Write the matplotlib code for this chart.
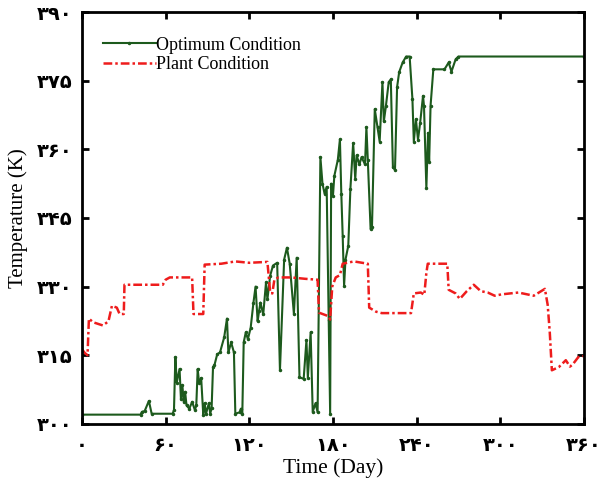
import matplotlib
matplotlib.use("Agg")
import matplotlib.pyplot as plt

# Optimum condition (green line with dots)
opt_day = [0, 42, 43, 45, 48, 50, 65, 66, 67, 68, 70, 71, 72, 73, 74, 75, 77, 79, 81, 82,
           83, 84, 85.5, 87, 88, 89, 91, 92, 93, 94, 95, 97, 99, 102, 104, 105, 107, 109, 110,
           113, 114, 115, 116, 117.5, 119, 121, 123, 124.5, 126, 127, 128, 130, 132, 133, 135,
           137, 140, 142, 145, 147, 149, 152, 154, 156, 159, 161, 162, 164, 165.5, 167.5, 169,
           171, 172.5, 174, 175.5, 177, 178, 178.7, 180, 181, 183.5, 185, 186, 187, 188, 189,
           191, 192.5, 194.5, 196, 197, 199, 200.5, 203, 204, 205, 207, 208, 210, 212, 213.5,
           215.5, 216.5, 218, 220, 221.5, 223, 224.5, 226, 227.5, 230, 232.5, 235, 237, 238,
           239.5, 241, 242.5, 244.6, 245.3, 247, 248.2, 249, 250, 252, 260, 263, 265, 268, 270,
           360]
opt_temp = [302, 302, 302.6, 302.8, 305, 302.2, 302.2, 303, 314.6, 309, 312, 305.4, 308.5,
            304.8, 307, 304, 303.3, 304.8, 303, 304, 312, 309, 310, 302, 304.5, 302.2, 304.5,
            302.2, 303.5, 312.4, 312.8, 315.2, 315.6, 318.9, 323, 315.6, 317.8, 315.6, 302.2,
            302.5, 303.3, 302.2, 317.8, 320, 318.5, 321, 326.5, 330, 322.4, 324.6, 326.5, 323.9,
            330.9, 327.2, 332.4, 334.6, 335.2, 311.7, 335.9, 338.5, 335, 324, 336.3, 310.2,
            309.8, 318.3, 310, 320, 302.6, 304.5, 302.5, 358.3, 352.5, 350.3, 351.8, 322.6, 302.2,
            352.5, 349.8, 354.2, 357.7, 362.2, 350.3, 341, 330.2, 335.9, 338.9, 351.3, 361.4, 353.5,
            358.7, 356.7, 358.3, 356.7, 364.9, 357.7, 342.6, 343, 368.8, 364.8, 361.7, 374.7, 366.1,
            369.5, 374.7, 375.3, 356.1, 355.5, 373.6, 376.9, 379, 380.3, 380.3, 371, 361.7,
            366.6, 362.1, 365.7, 371.7, 369.5, 351.5, 363.6, 357.2, 369.5, 377.5, 377.5, 379,
            377, 379.7, 380.3, 380.3]

# Plant condition (red dash-dot line)
plant_day = [0, 2, 4, 5, 8, 15, 19, 21.5, 25, 27, 30, 30.5, 45, 58, 60, 63, 79, 80, 87, 88,
             100, 110, 120, 133, 135, 136.5, 138, 141, 150, 160, 169, 170, 177, 178, 179.5,
             182, 185, 187, 195, 205, 206, 211, 215, 236, 238, 243, 245.5, 247, 248, 262, 263,
             268, 271, 276, 281, 286, 291, 296, 301, 313, 324, 332, 334, 335.5, 337, 342, 347,
             350, 352, 356, 360]
plant_temp = [316.3, 315.5, 315, 323, 322.2, 321.5, 322.4, 325.8, 325.4, 324, 324, 330.4,
              330.4, 330.4, 331.5, 332, 332, 324, 324, 334.8, 335, 335.5, 335.2, 335.4, 328.7,
              328.5, 331.5, 332, 332, 331.7, 331.5, 324.3, 323.5, 322.8, 330, 332, 332.5, 335,
              335.5, 335, 325.4, 324.5, 324.2, 324.2, 328.5, 328.7, 328.2, 333, 335, 335, 329.3,
              328.5, 327.3, 329, 330.4, 329, 328.7, 328, 328.3, 328.7, 328, 329.5, 326, 320,
              311.7, 312.4, 313.9, 312.5, 313, 314.6, 314.8]

x_ticks = [0, 60, 120, 180, 240, 300, 360]
x_labels = ["۰", "۶۰", "۱۲۰", "۱۸۰", "۲۴۰", "۳۰۰", "۳۶۰"]
y_ticks = [300, 315, 330, 345, 360, 375, 390]
y_labels = ["۳۰۰", "۳۱۵", "۳۳۰", "۳۴۵", "۳۶۰", "۳۷۵", "۳۹۰"]

fig = plt.figure(figsize=(6.07, 4.86), dpi=100)
ax = fig.add_axes([0.135, 0.128, 0.827, 0.847])

ax.plot(opt_day, opt_temp, color="#1d5a1d", linewidth=1.5, marker=".", markersize=3,
        label="Optimum Condition")
ax.plot(plant_day, plant_temp, color="#ee1c1c", linewidth=1.8, dashes=(3.5, 1.2, 1, 1.2),
        label="Plant Condition")

ax.set_xlim(0, 360)
ax.set_ylim(300, 390)
ax.set_xticks(x_ticks)
ax.set_xticklabels(x_labels, fontsize=14, fontweight="bold", family="DejaVu Sans")
ax.set_yticks(y_ticks)
ax.set_yticklabels(y_labels, fontsize=14, fontweight="bold", family="DejaVu Sans")
ax.tick_params(direction="in", length=5, width=2, top=True, right=True)
ax.tick_params(axis="x", pad=9)
ax.tick_params(axis="y", pad=7)
for s in ax.spines.values():
    s.set_linewidth(2)

ax.set_xlabel("Time (Day)", fontsize=15.5, family="Liberation Serif", labelpad=2)
ax.set_ylabel("Temperature (K)", fontsize=15, family="Liberation Serif", labelpad=6)

ax.legend(loc="upper left", bbox_to_anchor=(0.01, 0.98), frameon=False,
          prop={"family": "Liberation Serif", "size": 13}, handlelength=2.9,
          handletextpad=0.05, labelspacing=0.15)

fig.savefig("out.png", dpi=100)
